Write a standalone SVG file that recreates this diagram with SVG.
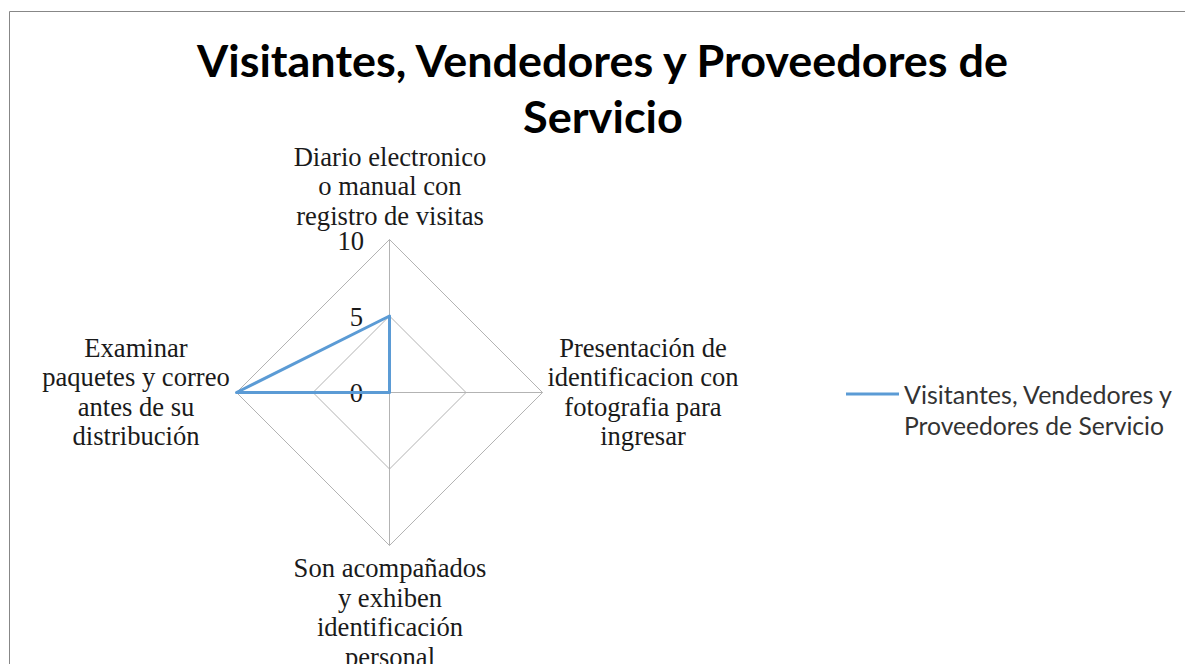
<svg xmlns="http://www.w3.org/2000/svg" width="1185" height="664" viewBox="0 0 1185 664">
  <style>
    .title { font-family: Lato, "Open Sans", "Liberation Sans", sans-serif; font-weight: bold; font-size: 44px; fill: #000; text-anchor: middle; }
    .cat { font-family: "Liberation Serif", "Times New Roman", serif; font-size: 26.6px; fill: #1a1a1a; text-anchor: middle; }
    .tick { font-family: "Liberation Serif", "Times New Roman", serif; font-size: 26.6px; fill: #1a1a1a; text-anchor: end; }
    .legend { font-family: Lato, "Open Sans", "Liberation Sans", sans-serif; font-size: 25px; fill: #333; }
    .grid { fill: none; stroke: #b3b3b3; stroke-width: 1; }
    .series { fill: none; stroke: #5b9bd5; stroke-width: 3; stroke-linejoin: round; stroke-linecap: round; }
  </style>
  <rect x="0" y="0" width="1185" height="664" fill="#fff"/>
  <path d="M9.5 664 V11.5 H1185" fill="none" stroke="#878787" stroke-width="1"/>

  <g id="title">
    <text class="title" x="602.5" y="77" textLength="811" lengthAdjust="spacingAndGlyphs">Visitantes, Vendedores y Proveedores de</text>
    <text class="title" x="603" y="133" textLength="160" lengthAdjust="spacingAndGlyphs">Servicio</text>
  </g>

  <g id="grid">
    <polygon class="grid" points="389.5,239.5 542.5,392.5 389.5,545.5 236.5,392.5"/>
    <polygon class="grid" points="389.5,316 466,392.5 389.5,469 313,392.5"/>
    <path class="grid" d="M389.5 392.5 V239.5 M389.5 392.5 H542.5 M389.5 392.5 V545.5 M389.5 392.5 H236.5"/>
  </g>

  <g id="ticks">
    <text class="tick" x="364" y="249.5">10</text>
    <text class="tick" x="363" y="326">5</text>
    <text class="tick" x="363" y="401.5">0</text>
  </g>

  <g id="series">
    <polygon class="series" points="389.5,316 389.5,392.5 389.5,392.5 236.5,392.5"/>
  </g>

  <g id="cat-top">
    <text class="cat" x="390" y="165.5">Diario electronico</text>
    <text class="cat" x="390" y="195">o manual con</text>
    <text class="cat" x="390" y="224.5">registro de visitas</text>
  </g>
  <g id="cat-right">
    <text class="cat" x="643" y="356.5">Presentación de</text>
    <text class="cat" x="643" y="386">identificacion con</text>
    <text class="cat" x="643" y="415.5">fotografia para</text>
    <text class="cat" x="643" y="445">ingresar</text>
  </g>
  <g id="cat-bottom">
    <text class="cat" x="390" y="577">Son acompañados</text>
    <text class="cat" x="390" y="606.5">y exhiben</text>
    <text class="cat" x="390" y="636">identificación</text>
    <text class="cat" x="390" y="665.5">personal</text>
  </g>
  <g id="cat-left">
    <text class="cat" x="136" y="356.5">Examinar</text>
    <text class="cat" x="136" y="386">paquetes y correo</text>
    <text class="cat" x="136" y="415.5">antes de su</text>
    <text class="cat" x="136" y="445">distribución</text>
  </g>

  <g id="legend">
    <line x1="846" y1="394" x2="899" y2="394" stroke="#5b9bd5" stroke-width="3"/>
    <text class="legend" x="904" y="403.5" textLength="268" lengthAdjust="spacingAndGlyphs">Visitantes, Vendedores y</text>
    <text class="legend" x="904" y="434.5" textLength="260" lengthAdjust="spacingAndGlyphs">Proveedores de Servicio</text>
  </g>
</svg>
